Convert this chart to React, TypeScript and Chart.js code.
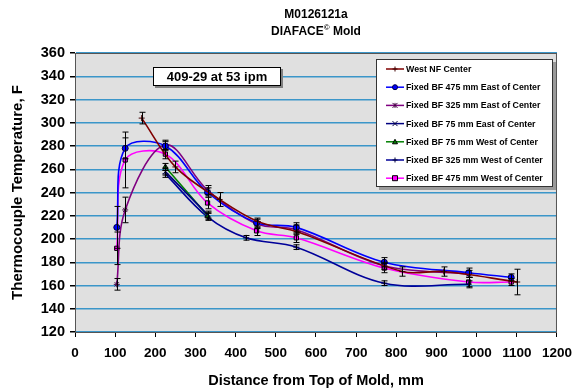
import React, { useEffect, useRef } from 'react';
import { Chart, registerables } from 'chart.js';

Chart.register(...registerables);

const titleLine1 = 'M0126121a';
const titleLine2a = 'DIAFACE';
const titleSup = '©';
const titleLine2b = ' Mold';
const noteText = '409-29 at 53 ipm';
const xAxisTitle = 'Distance from Top of Mold, mm';
const yAxisTitle = 'Thermocouple Temperature, F';

const seriesNames = [
  'West NF Center',
  'Fixed BF 475 mm East of Center',
  'Fixed BF 325 mm East of Center',
  'Fixed BF 75 mm East of Center',
  'Fixed BF 75 mm West of Center',
  'Fixed BF 325 mm West of Center',
  'Fixed BF 475 mm West of Center',
];
const seriesColors = ['#800000', '#0000ff', '#800080', '#000080', '#008000', '#000099', '#ff00ff'];
const seriesMarkers = ['cross', 'circle', 'star', 'crossRot', 'triangle', 'cross', 'rect'];
const markerFills = ['#400000', '#0000ff', '#800080', '#000080', '#008000', '#000099', '#ff00ff'];
const markerBorders = ['#400000', '#000040', '#400040', '#000040', '#000000', '#000040', '#000000'];

const westNFX = [166, 250, 360, 455, 555, 815, 918, 1101];
const westNFY = [304, 262, 234, 215, 206, 172, 172, 163];
const westNFErr = [5, 5, 6, 0, 0, 4, 4, 11];

const east475X = [104, 125, 225, 330, 452, 551, 770, 980, 1086];
const east475Y = [210, 278, 280, 240, 214, 210, 180, 171, 167];
const east475Err = [18, 9, 4, 4, 4, 4, 4, 4, 3];

const east325X = [104, 125, 225, 330, 452, 551, 770, 980];
const east325Y = [161, 225, 281, 242, 213, 208, 177, 170];
const east325Err = [5, 11, 4, 4, 4, 4, 3, 3];

const east75X = [225, 330];
const east75Y = [258, 221];
const east75Err = [3, 3];

const west75X = [225, 330];
const west75Y = [262, 220];
const west75Err = [3, 3];

const west325X = [225, 330, 426, 551, 770, 980];
const west325Y = [256, 219, 201, 193, 162, 161];
const west325Err = [3, 3, 2, 2, 2, 3];

const west475X = [104, 125, 225, 330, 452, 551, 770, 980, 1086];
const west475Y = [192, 268, 273, 231, 207, 201, 175, 163, 163];
const west475Err = [14, 24, 4, 5, 4, 4, 4, 4, 3];

const allX = [westNFX, east475X, east325X, east75X, west75X, west325X, west475X];
const allY = [westNFY, east475Y, east325Y, east75Y, west75Y, west325Y, west475Y];
const allErr = [westNFErr, east475Err, east325Err, east75Err, west75Err, west325Err, west475Err];

const xTickMin = 0;
const xTickMax = 1200;
const xTickStep = 100;
const yTickMin = 120;
const yTickMax = 360;
const yTickStep = 20;

const FONT = '"Liberation Sans", Arial, sans-serif';

function drawMarker(ctx: CanvasRenderingContext2D, style: string, x: number, y: number, r: number, fill: string, stroke: string) {
  ctx.save();
  ctx.lineWidth = 1;
  ctx.fillStyle = fill;
  ctx.strokeStyle = stroke;
  ctx.beginPath();
  if (style === 'circle') {
    ctx.arc(x, y, r, 0, Math.PI * 2);
    ctx.fill();
    ctx.stroke();
  } else if (style === 'rect') {
    ctx.rect(x - r, y - r, 2 * r, 2 * r);
    ctx.fill();
    ctx.stroke();
  } else if (style === 'triangle') {
    ctx.moveTo(x, y - r);
    ctx.lineTo(x + r, y + r * 0.8);
    ctx.lineTo(x - r, y + r * 0.8);
    ctx.closePath();
    ctx.fill();
    ctx.stroke();
  } else if (style === 'cross') {
    ctx.moveTo(x - r, y);
    ctx.lineTo(x + r, y);
    ctx.moveTo(x, y - r);
    ctx.lineTo(x, y + r);
    ctx.stroke();
  } else if (style === 'crossRot') {
    ctx.moveTo(x - r, y - r);
    ctx.lineTo(x + r, y + r);
    ctx.moveTo(x + r, y - r);
    ctx.lineTo(x - r, y + r);
    ctx.stroke();
  } else if (style === 'star') {
    ctx.moveTo(x - r, y - r);
    ctx.lineTo(x + r, y + r);
    ctx.moveTo(x + r, y - r);
    ctx.lineTo(x - r, y + r);
    ctx.moveTo(x, y - r);
    ctx.lineTo(x, y + r);
    ctx.stroke();
  }
  ctx.restore();
}

const bgPlugin = {
  id: 'plotBg',
  beforeDraw(chart: any) {
    const { ctx, chartArea: a } = chart;
    ctx.save();
    ctx.fillStyle = '#e0e0e0';
    ctx.fillRect(a.left, a.top, a.right - a.left, a.bottom - a.top);
    ctx.restore();
  },
  beforeDatasetsDraw(chart: any) {
    const { ctx, chartArea: a } = chart;
    ctx.save();
    ctx.strokeStyle = '#555555';
    ctx.lineWidth = 1;
    ctx.strokeRect(a.left + 0.5, a.top + 0.5, a.right - a.left - 1, a.bottom - a.top);
    ctx.restore();
  },
};

const errorBarPlugin = {
  id: 'errorBars',
  afterDatasetsDraw(chart: any) {
    const { ctx } = chart;
    const ys = chart.scales.y;
    ctx.save();
    ctx.strokeStyle = '#000000';
    ctx.lineWidth = 1;
    allErr.forEach((errs, i) => {
      const meta = chart.getDatasetMeta(i);
      errs.forEach((e, j) => {
        if (!e) return;
        const px = Math.round(meta.data[j].x) + 0.5;
        const v = allY[i][j];
        const top = ys.getPixelForValue(v + e);
        const bot = ys.getPixelForValue(v - e);
        ctx.beginPath();
        ctx.moveTo(px, top);
        ctx.lineTo(px, bot);
        ctx.moveTo(px - 3, top);
        ctx.lineTo(px + 3, top);
        ctx.moveTo(px - 3, bot);
        ctx.lineTo(px + 3, bot);
        ctx.stroke();
      });
    });
    ctx.restore();
  },
};

const overlayPlugin = {
  id: 'overlay',
  afterDraw(chart: any) {
    const { ctx, chartArea: a } = chart;
    ctx.save();
    // Title
    const cx = (a.left + a.right) / 2;
    ctx.fillStyle = '#000';
    ctx.textBaseline = 'middle';
    ctx.textAlign = 'center';
    ctx.font = 'bold 12px ' + FONT;
    ctx.fillText(titleLine1, cx, 15);
    ctx.textAlign = 'left';
    const wA = ctx.measureText(titleLine2a).width;
    const wB = ctx.measureText(titleLine2b).width;
    ctx.font = 'bold 8px ' + FONT;
    const wS = ctx.measureText(titleSup).width;
    const total = wA + wS + wB;
    let sx = cx - total / 2;
    ctx.font = 'bold 12px ' + FONT;
    ctx.fillText(titleLine2a, sx, 32);
    sx += wA;
    ctx.font = 'bold 8px ' + FONT;
    ctx.fillText(titleSup, sx, 28);
    sx += wS;
    ctx.font = 'bold 12px ' + FONT;
    ctx.fillText(titleLine2b, sx, 32);

    // Note box
    const nx = 153, ny = 67, nw = 128, nh = 19;
    ctx.fillStyle = '#808080';
    ctx.fillRect(nx + 2, ny + 2, nw, nh);
    ctx.fillStyle = '#ffffff';
    ctx.fillRect(nx, ny, nw, nh);
    ctx.strokeStyle = '#000';
    ctx.lineWidth = 1;
    ctx.strokeRect(nx + 0.5, ny + 0.5, nw - 1, nh - 1);
    ctx.fillStyle = '#000';
    ctx.textAlign = 'center';
    ctx.font = 'bold 13px ' + FONT;
    ctx.fillText(noteText, nx + nw / 2, ny + nh / 2 + 1);

    // Legend
    const lx = 376, ly = 59, lw = 177, lh = 128;
    ctx.fillStyle = '#9a9a9a';
    ctx.fillRect(lx + 3, ly + 3, lw, lh);
    ctx.fillStyle = '#ffffff';
    ctx.fillRect(lx, ly, lw, lh);
    ctx.strokeStyle = '#333';
    ctx.strokeRect(lx + 0.5, ly + 0.5, lw - 1, lh - 1);
    ctx.textAlign = 'left';
    ctx.font = 'bold 8.8px ' + FONT;
    seriesNames.forEach((name, i) => {
      const y = 69 + i * 18.2;
      ctx.strokeStyle = seriesColors[i];
      ctx.lineWidth = 1.5;
      ctx.beginPath();
      ctx.moveTo(386, y);
      ctx.lineTo(404, y);
      ctx.stroke();
      drawMarker(ctx, seriesMarkers[i], 395, y, 2.5, markerFills[i], markerBorders[i]);
      ctx.fillStyle = '#000';
      ctx.fillText(name, 406, y + 0.5);
    });
    ctx.restore();
  },
};

export default function App() {
  const ref = useRef<HTMLCanvasElement | null>(null);
  useEffect(() => {
    document.body.style.margin = '0';
    const canvas = ref.current;
    if (!canvas) return;
    const datasets = seriesNames.map((name, i) => ({
      label: name,
      data: allX[i].map((x, j) => ({ x, y: allY[i][j] })),
      borderColor: seriesColors[i],
      backgroundColor: markerFills[i],
      borderWidth: 1.6,
      tension: 0.35,
      pointStyle: seriesMarkers[i] as any,
      pointRadius: 3,
      pointBackgroundColor: markerFills[i],
      pointBorderColor: markerBorders[i],
      pointBorderWidth: 1,
      fill: false,
    }));
    const chart = new Chart(canvas, {
      type: 'line',
      data: { datasets },
      options: {
        animation: false,
        responsive: false,
        devicePixelRatio: 1,
        font: { family: FONT },
        layout: { padding: { top: 53, right: 17, left: 0, bottom: 0 } },
        plugins: {
          legend: { display: false },
          title: { display: false },
          tooltip: { enabled: false },
        },
        scales: {
          x: {
            type: 'linear',
            min: xTickMin,
            max: xTickMax,
            ticks: {
              stepSize: xTickStep,
              autoSkip: false,
              maxRotation: 0,
              color: '#000',
              padding: 8,
              font: { family: FONT, size: 13.5, weight: 'bold' },
              callback: (v: any) => String(v),
            },
            grid: { drawOnChartArea: false, tickLength: 5, tickColor: '#000', color: '#000' },
            border: { color: '#000', width: 1 },
            title: {
              display: true,
              text: xAxisTitle,
              color: '#000',
              font: { family: FONT, size: 14.5, weight: 'bold' },
              padding: { top: 0, bottom: 0 },
            },
            afterFit: (s: any) => { s.height = 58; },
          },
          y: {
            type: 'linear',
            min: yTickMin,
            max: yTickMax,
            ticks: {
              stepSize: yTickStep,
              color: '#000',
              padding: 5,
              font: { family: FONT, size: 14.5, weight: 'bold' },
              callback: (v: any) => String(v),
            },
            grid: { color: '#3b96c9', lineWidth: 1.5, tickLength: 5, tickColor: '#000' },
            border: { color: '#000', width: 1 },
            title: {
              display: true,
              text: yAxisTitle,
              color: '#000',
              font: { family: FONT, size: 15, weight: 'bold' },
              padding: { top: 9, bottom: 0 },
            },
            afterFit: (s: any) => { s.width = 75; },
          },
        },
      } as any,
      plugins: [bgPlugin, errorBarPlugin, overlayPlugin],
    });
    return () => chart.destroy();
  }, []);
  return (
    <div style={{ position: 'absolute', left: 0, top: 0, width: 580, height: 390 }}>
      <canvas ref={ref} width={580} height={390} />
    </div>
  );
}
